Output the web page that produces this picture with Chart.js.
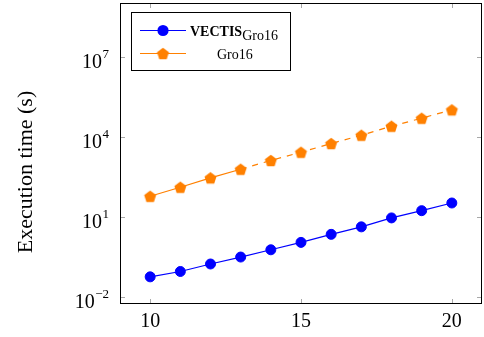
<!DOCTYPE html>
<html>
<head>
<meta charset="utf-8">
<script src="https://cdn.jsdelivr.net/npm/chart.js@4.4.0/dist/chart.umd.min.js"></script>
<style>
  html, body { margin: 0; padding: 0; background: #ffffff; }
  #wrap { width: 484px; height: 337px; }
</style>
</head>
<body>
<div id="wrap"><canvas id="timeChart" width="484" height="337"></canvas></div>
<script>
// data
const sizes = [10, 11, 12, 13, 14, 15, 16, 17, 18, 19, 20];
const vectisTimes = [0.056, 0.089, 0.17, 0.31, 0.58, 1.1, 2.2, 4.2, 9.1, 17, 33];
const gro16Times = [59, 129, 290, 610, 1300, 2650, 5600, 11500, 25000, 50000, 103000];
const xTicks = [10, 15, 20];
const yTickExps = [-2, 1, 4, 7];

const serif = '"Liberation Serif", "DejaVu Serif", serif';
const BLUE = '#0000ff';
const ORANGE = '#ff8000';

// pentagon marker for the orange series
function makePentagon(r, color) {
    const size = Math.ceil(r * 2 + 2);
    const c = document.createElement('canvas');
    c.width = size;
    c.height = size;
    const g = c.getContext('2d');
    const cx = size / 2, cy = size / 2 + r * 0.1;
    g.beginPath();
    for (let i = 0; i < 5; i++) {
        const a = -Math.PI / 2 + i * 2 * Math.PI / 5;
        const px = cx + r * Math.cos(a), py = cy + r * Math.sin(a);
        if (i === 0) g.moveTo(px, py); else g.lineTo(px, py);
    }
    g.closePath();
    g.fillStyle = color;
    g.fill();
    return c;
}
const pentagon = makePentagon(6.3, ORANGE);

const decorPlugin = {
    id: 'decor',
    afterDraw(chart) {
        const g = chart.ctx;
        const area = chart.chartArea;
        const xs = chart.scales.x, ys = chart.scales.y;
        g.save();

        // inward tick marks (gray), both sides
        g.strokeStyle = '#a8a8a8';
        g.lineWidth = 1;
        const tl = 5;
        xTicks.forEach(v => {
            const px = Math.round(xs.getPixelForValue(v)) + 0.5;
            g.beginPath();
            g.moveTo(px, area.bottom); g.lineTo(px, area.bottom - tl);
            g.moveTo(px, area.top); g.lineTo(px, area.top + tl);
            g.stroke();
        });
        yTickExps.forEach(e => {
            const py = Math.round(ys.getPixelForValue(Math.pow(10, e))) + 0.5;
            g.beginPath();
            g.moveTo(area.left, py); g.lineTo(area.left + tl, py);
            g.moveTo(area.right, py); g.lineTo(area.right - tl, py);
            g.stroke();
        });

        // frame
        g.strokeStyle = '#000000';
        g.lineWidth = 1;
        g.strokeRect(Math.round(area.left) + 0.5, Math.round(area.top) + 0.5,
            Math.round(area.right - area.left) - 1, Math.round(area.bottom - area.top) - 1);

        // x tick labels
        g.fillStyle = '#000000';
        g.font = '20px ' + serif;
        g.textAlign = 'center';
        g.textBaseline = 'middle';
        xTicks.forEach(v => {
            g.fillText(String(v), xs.getPixelForValue(v), area.bottom + 18);
        });

        // y tick labels 10^e
        yTickExps.forEach(e => {
            const py = ys.getPixelForValue(Math.pow(10, e));
            const exp = e < 0 ? '\u2212' + Math.abs(e) : String(e);
            g.font = '13px ' + serif;
            const ew = g.measureText(exp).width;
            const right = area.left - 11;
            g.textAlign = 'left';
            g.textBaseline = 'alphabetic';
            g.fillText(exp, right - ew, py + 1.5);
            g.font = '20px ' + serif;
            g.textAlign = 'right';
            g.fillText('10', right - ew - 0.5, py + 11);
        });

        // y axis title
        g.save();
        g.translate(26, 172);
        g.rotate(-Math.PI / 2);
        g.font = '22px ' + serif;
        g.textAlign = 'center';
        g.textBaseline = 'middle';
        g.fillText('Execution time (s)', 0, 0);
        g.restore();

        // legend box
        const lx = 131.5, ly = 12.5, lw = 159, lh = 58;
        g.fillStyle = '#ffffff';
        g.fillRect(lx, ly, lw, lh);
        g.strokeStyle = '#000000';
        g.strokeRect(lx, ly, lw, lh);
        const rows = [30.5, 53.5];
        chart.data.datasets.forEach((ds, i) => {
            const y = rows[i];
            g.strokeStyle = ds.borderColor;
            g.lineWidth = 1.2;
            g.beginPath();
            g.moveTo(140, y); g.lineTo(186, y);
            g.stroke();
            if (ds.pointStyle === 'circle') {
                g.fillStyle = ds.pointBackgroundColor;
                g.beginPath();
                g.arc(163, y, 5.6, 0, Math.PI * 2);
                g.fill();
            } else {
                g.drawImage(ds.pointStyle, 163 - ds.pointStyle.width / 2, y - ds.pointStyle.height / 2);
            }
        });
        g.fillStyle = '#000000';
        g.textAlign = 'left';
        g.textBaseline = 'alphabetic';
        g.font = 'bold 14px ' + serif;
        g.fillText('VECTIS', 190, 35.5);
        const vw = g.measureText('VECTIS').width;
        g.font = '14px ' + serif;
        g.fillText('Gro16', 190 + vw, 39.5);
        g.fillText('Gro16', 217, 58.5);

        g.restore();
    }
};

new Chart(document.getElementById('timeChart'), {
    type: 'line',
    data: {
        datasets: [
            {
                label: 'VECTIS Gro16',
                data: sizes.map((x, i) => ({ x: x, y: vectisTimes[i] })),
                borderColor: BLUE,
                backgroundColor: BLUE,
                pointBackgroundColor: BLUE,
                pointBorderColor: BLUE,
                borderWidth: 1.2,
                pointStyle: 'circle',
                pointRadius: 5,
                pointBorderWidth: 1,
                tension: 0,
            },
            {
                label: 'Gro16',
                data: sizes.map((x, i) => ({ x: x, y: gro16Times[i] })),
                borderColor: ORANGE,
                backgroundColor: ORANGE,
                pointBackgroundColor: ORANGE,
                borderWidth: 1.2,
                pointStyle: pentagon,
                tension: 0,
                segment: {
                    borderDash: ctx => ctx.p0DataIndex >= 3 ? [6, 6] : undefined,
                },
            },
        ],
    },
    options: {
        responsive: false,
        animation: false,
        events: [],
        layout: { autoPadding: false, padding: { left: 120, top: 3, right: 2, bottom: 33 } },
        plugins: {
            legend: { display: false },
            tooltip: { enabled: false },
        },
        scales: {
            x: {
                type: 'linear',
                min: 9,
                max: 21,
                grid: { display: false },
                border: { display: false },
                ticks: { display: false },
                afterFit: s => { s.height = 0; },
            },
            y: {
                type: 'logarithmic',
                min: Math.pow(10, -2.27),
                max: Math.pow(10, 9.02),
                grid: { display: false },
                border: { display: false },
                ticks: { display: false },
                afterFit: s => { s.width = 0; },
            },
        },
    },
    plugins: [decorPlugin],
});
</script>
</body>
</html>
